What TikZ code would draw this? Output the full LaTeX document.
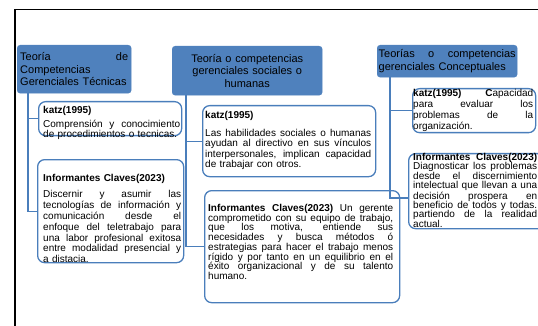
\documentclass[tikz,border=0pt]{standalone}
\usepackage{fontspec}
\setmainfont{Liberation Sans}
\definecolor{hdrblue}{HTML}{4F81BD}
\definecolor{bdrblue}{HTML}{4A7EBB}
\newcommand{\jl}[1]{\noindent\hbox to\hsize{\spaceskip=.278em plus 1fil\relax\xspaceskip=\spaceskip #1}\par}
\newcommand{\pl}[1]{\noindent #1\par}
\begin{document}
\begin{tikzpicture}[x=1pt,y=-1pt,
  hdr/.style={fill=hdrblue, draw=hdrblue, rounded corners=3pt, inner sep=0pt, anchor=north west, text=black, font=\fontsize{11}{12.5}\selectfont},
  card/.style={draw=bdrblue, line width=1.3pt, rounded corners=7pt, fill=white, inner sep=0pt, anchor=north west},
  conn/.style={draw=bdrblue, line width=1.2pt},
  txt/.style={inner sep=0pt, anchor=base west, font=\fontsize{10}{10.5}\selectfont},
]
\useasboundingbox (0,0) rectangle (538,326);
\clip (0,0) rectangle (538,326);
% frame
\draw[line width=1.6pt, line join=miter] (15,330) -- (15,9.5) -- (545,9.5);
% headers
\node[hdr, minimum width=114pt, minimum height=48pt, text width=108pt] (h1) at (17,45)
  {\jl{Teoría de}\pl{Competencias}\pl{Gerenciales Técnicas}};
\node[hdr, minimum width=150pt, minimum height=49pt, text width=146pt, align=center] (h2) at (172,46)
  {Teoría o competencias\\gerenciales sociales o\\humanas};
\node[hdr, minimum width=140pt, minimum height=32pt, text width=137pt] (h3) at (377,45)
  {\jl{Teorías o competencias}\pl{gerenciales Conceptuales}};
% cards
\node[card, minimum width=143pt, minimum height=34pt] (k1) at (38,101) {};
\node[card, minimum width=146pt, minimum height=103pt] (i1) at (37,159) {};
\node[card, minimum width=173pt, minimum height=71pt] (k2) at (202,105) {};
\node[card, minimum width=195pt, minimum height=112pt] (i2) at (204,190) {};
\node[card, minimum width=123pt, minimum height=44pt] (k3) at (412,88) {};
\node[card, minimum width=137pt, minimum height=75pt] (i3) at (408,153) {};
% card texts
\node[txt, text width=137pt] (k1t) at (43,113.5)
  {\pl{\textbf{katz(1995)}}\vspace{3.5pt}\jl{Comprensión y conocimiento}\pl{de procedimientos o tecnicas.}};
\node[txt, text width=138pt, font=\fontsize{10}{10.9}\selectfont] (i1t) at (43,181.5)
  {\pl{\textbf{Informantes Claves(2023)}}\vspace{5pt}\jl{Discernir y asumir las}\jl{tecnologías de información y}\jl{comunicación desde el}\jl{enfoque del teletrabajo para}\jl{una labor profesional exitosa}\jl{entre modalidad presencial y}\pl{a distacia.}};
\node[txt, text width=166pt, font=\fontsize{10}{10.3}\selectfont] (k2t) at (205,118.5)
  {\pl{\textbf{katz(1995)}}\vspace{7.7pt}\jl{Las habilidades sociales o humanas}\jl{ayudan al directivo en sus vínculos}\jl{interpersonales, implican capacidad}\pl{de trabajar con otros.}};
\node[txt, text width=185pt, font=\fontsize{10}{9.7}\selectfont] (i2t) at (208,211.5)
  {\jl{\textbf{Informantes Claves(2023)} Un gerente}\jl{comprometido con su equipo de trabajo,}\jl{que los motiva, entiende sus}\jl{necesidades y busca métodos ó}\jl{estrategias para hacer el trabajo menos}\jl{rígido y por tanto en un equilibrio en el}\jl{éxito organizacional y de su talento}\pl{humano.}};
\node[txt, text width=120pt, font=\fontsize{10}{11}\selectfont] (k3t) at (413,96.5)
  {\jl{\textbf{katz(1995)} \textbf{C}apacidad}\jl{para evaluar los}\jl{problemas de la}\pl{organización.}};
\node[txt, text width=124pt, font=\fontsize{10}{9.4}\selectfont] (i3t) at (413,160.5)
  {\jl{\textbf{Informantes Claves(2023)}}\jl{Diagnosticar los problemas}\jl{desde el discernimiento}\jl{intelectual que llevan a una}\jl{decisión prospera en}\jl{beneficio de todos y todas.}\jl{partiendo de la realidad}\pl{actual.}};
% connectors
\coordinate (c1) at (28,93);
\coordinate (c2) at (186,95);
\coordinate (c3) at (390,77);
\coordinate (c3i) at (408,198);
\draw[conn] (c1) |- (k1.west);
\draw[conn] (c1) |- (i1.west);
\draw[conn] (c2) |- (k2.west);
\draw[conn] (c2) |- (i2.west);
\draw[conn] (c3) |- (k3.west);
\draw[conn] (c3) |- (c3i);
\end{tikzpicture}
\end{document}
